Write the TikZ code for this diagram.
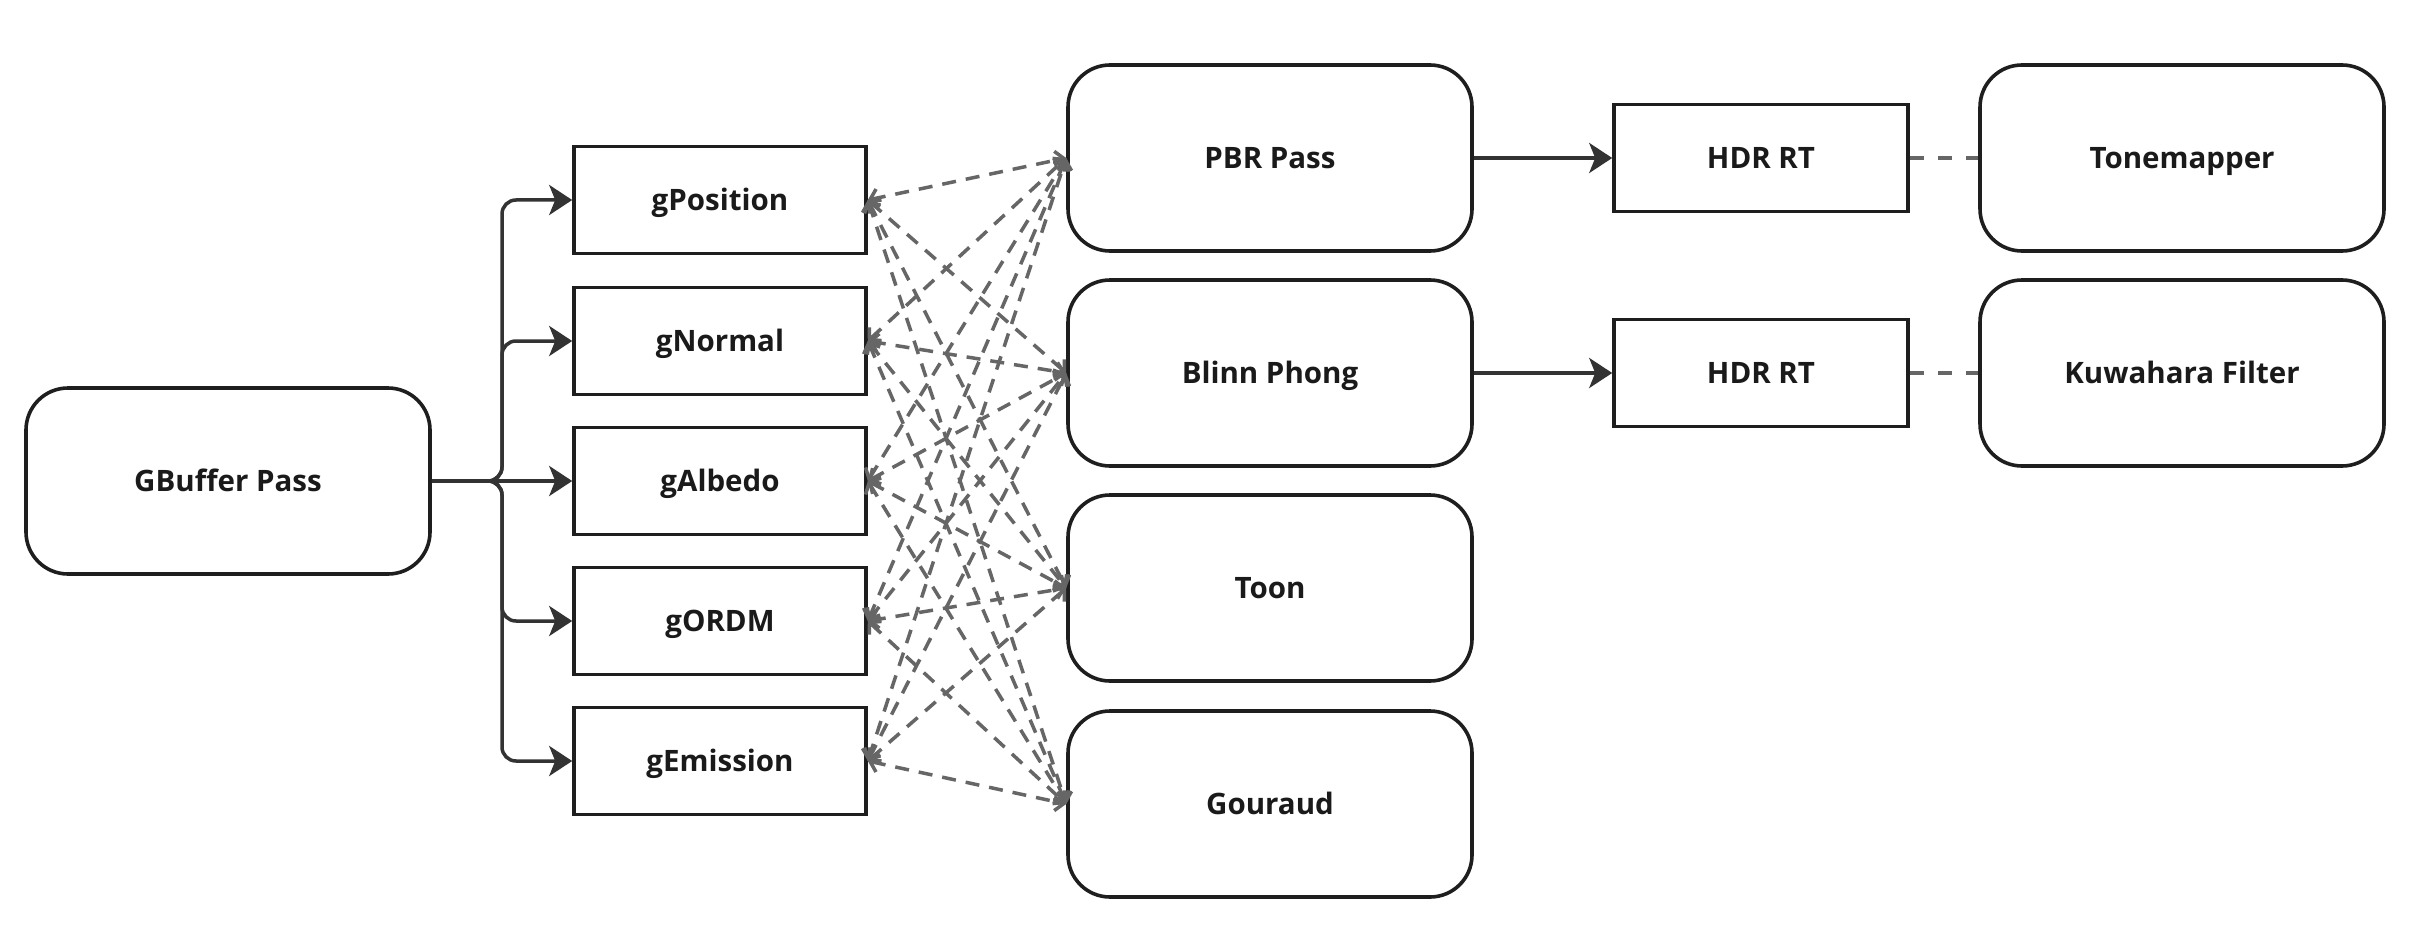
\documentclass[tikz,border=0pt]{standalone}
\usepackage{fontspec}
\setmainfont{Open Sans}
\usetikzlibrary{arrows.meta}
\definecolor{boxline}{HTML}{1E1E1E}
\definecolor{conn}{HTML}{333333}
\definecolor{dashc}{HTML}{666666}
\definecolor{txt}{HTML}{1A1A1A}
\tikzset{
  base/.style={draw=boxline, line width=3.6pt, fill=white, text=txt,
    font=\fontsize{29.5}{35}\selectfont\bfseries, inner sep=0pt,
    text height=21pt, text depth=0pt},
  passbox/.style={base, rounded corners=42pt, minimum width=404pt, minimum height=186pt},
  bufbox/.style={base, minimum width=292pt, minimum height=107pt},
  solidarrow/.style={draw=conn, line width=3.5pt, -{Stealth[length=23pt,width=30pt,inset=6pt]}},
  dasharrow/.style={draw=dashc, line width=3.5pt, dash pattern=on 14pt off 10pt,
    {Straight Barb[length=8pt,width=18pt,line width=3.5pt]}-{Straight Barb[length=8pt,width=18pt,line width=3.5pt]}},
  dashlink/.style={draw=dashc, line width=3.5pt, dash pattern=on 14pt off 14pt}
}
\begin{document}
\begin{tikzpicture}[x=1pt,y=-1pt]
\useasboundingbox[fill=white] (0,0) rectangle (2424,928);

\node[passbox] (gb) at (228,481) {GBuffer Pass};

\node[bufbox] (gpos) at (720,200) {gPosition};
\node[bufbox] (gnor) at (720,341) {gNormal};
\node[bufbox] (galb) at (720,481) {gAlbedo};
\node[bufbox] (gord) at (720,621) {gORDM};
\node[bufbox] (gemi) at (720,761) {gEmission};

\node[passbox] (pbr) at (1270,158) {PBR Pass};
\node[passbox] (bli) at (1270,373) {Blinn Phong};
\node[passbox] (toon) at (1270,588) {Toon};
\node[passbox] (gou) at (1270,804) {Gouraud};

\node[bufbox, minimum width=294pt] (hdr1) at (1761,158) {HDR RT};
\node[bufbox, minimum width=294pt] (hdr2) at (1761,373) {HDR RT};

\node[passbox] (tone) at (2182,158) {Tonemapper};
\node[passbox] (kuw) at (2182,373) {Kuwahara Filter};

% dashed connections
\foreach \g in {gpos,gnor,galb,gord,gemi}{
  \foreach \p in {pbr,bli,toon,gou}{
    \draw[dasharrow] (\g.east) -- (\p.west);
  }
}

% branch
\coordinate (br) at (502,481);
\draw[solidarrow, rounded corners=14pt] (gb.east) -- (br) |- (gpos.west);
\draw[solidarrow, rounded corners=14pt] (gb.east) -- (br) |- (gnor.west);
\draw[solidarrow] (gb.east) -- (galb.west);
\draw[solidarrow, rounded corners=14pt] (gb.east) -- (br) |- (gord.west);
\draw[solidarrow, rounded corners=14pt] (gb.east) -- (br) |- (gemi.west);

\draw[solidarrow] (pbr.east) -- (hdr1.west);
\draw[solidarrow] (bli.east) -- (hdr2.west);
\draw[dashlink] (hdr1.east) -- (tone.west);
\draw[dashlink] (hdr2.east) -- (kuw.west);
\end{tikzpicture}
\end{document}
